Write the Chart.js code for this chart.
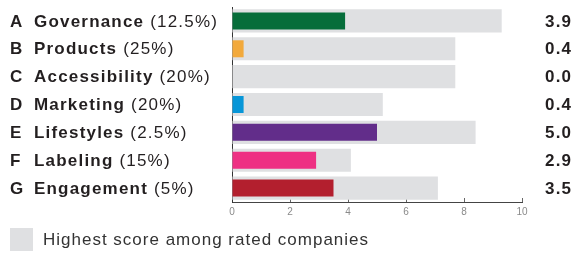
<!DOCTYPE html>
<html>
<head>
<meta charset="utf-8">
<script src="https://cdn.jsdelivr.net/npm/chart.js@4"></script>
<style>
  html, body { margin: 0; padding: 0; background: #fff; }
  #wrap { width: 574px; height: 253px; position: relative; }
</style>
</head>
<body>
<div id="wrap"><canvas id="scoreChart"></canvas></div>
<script>
// Data
const letters = ['A', 'B', 'C', 'D', 'E', 'F', 'G'];
const names = ['Governance', 'Products', 'Accessibility', 'Marketing', 'Lifestyles', 'Labeling', 'Engagement'];
const weights = ['(12.5%)', '(25%)', '(20%)', '(20%)', '(2.5%)', '(15%)', '(5%)'];
const scores = [3.9, 0.4, 0.0, 0.4, 5.0, 2.9, 3.5];
const highest = [9.3, 7.7, 7.7, 5.2, 8.4, 4.1, 7.1];
const xTicks = [0, 2, 4, 6, 8, 10];
const legendText = 'Highest score among rated companies';

const barColors = ['#066d3a', '#f2a93b', '#7a2a1e', '#0796d8', '#622d8a', '#ee3083', '#b31f2e'];
const grayColor = '#dfe0e2';
const FONT = '"Liberation Sans", Arial, Helvetica, sans-serif';

// labels left, values right, legend bottom
const textPlugin = {
    id: 'textPlugin',
    afterDraw(chart) {
        const ctx = chart.ctx;
        const yScale = chart.scales.y;
        ctx.save();
        ctx.textBaseline = 'middle';
        ctx.fillStyle = '#231f20';
        ctx.letterSpacing = '1.2px';
        letters.forEach((l, i) => {
            const y = yScale.getPixelForValue(i) + 1;
            ctx.textAlign = 'left';
            ctx.font = 'bold 17px ' + FONT;
            ctx.fillText(l, 10, y);
            ctx.fillText(names[i], 34, y);
            const w = ctx.measureText(names[i] + ' ').width;
            ctx.font = '17px ' + FONT;
            ctx.fillText(weights[i], 34 + w, y);
            ctx.font = 'bold 17px ' + FONT;
            ctx.fillText(scores[i].toFixed(1), 545, y);
        });
        // legend
        ctx.fillStyle = grayColor;
        ctx.fillRect(10, 228, 23, 23);
        ctx.fillStyle = '#333';
        ctx.letterSpacing = '1px';
        ctx.font = '17px ' + FONT;
        ctx.textAlign = 'left';
        ctx.fillText(legendText, 43, 240);
        ctx.restore();
    }
};

new Chart(document.getElementById('scoreChart'), {
    type: 'bar',
    data: {
        labels: names,
        datasets: [
            {
                label: 'Score',
                data: scores,
                backgroundColor: barColors,
                barPercentage: 0.61,
                categoryPercentage: 1,
                grouped: false,
                order: 0
            },
            {
                label: legendText,
                data: highest,
                backgroundColor: grayColor,
                barPercentage: 0.83,
                categoryPercentage: 1,
                grouped: false,
                order: 1
            }
        ]
    },
    options: {
        indexAxis: 'y',
        responsive: true,
        maintainAspectRatio: false,
        animation: false,
        layout: { padding: { top: 7, right: 52, left: 0, bottom: 0 } },
        plugins: {
            legend: { display: false },
            tooltip: { enabled: false }
        },
        scales: {
            x: {
                min: 0,
                max: 10,
                afterFit: (s) => { s.height = 51; },
                afterBuildTicks: (s) => { s.ticks = xTicks.map(v => ({ value: v })); },
                grid: {
                    display: true,
                    drawOnChartArea: false,
                    drawTicks: true,
                    tickLength: -4,
                    color: '#666'
                },
                border: { display: true, color: '#444', width: 1 },
                ticks: {
                    padding: 8,
                    color: '#8a8a8a',
                    font: { family: FONT, size: 10 }
                }
            },
            y: {
                afterFit: (s) => { s.width = 232; },
                grid: { display: false },
                border: { display: true, color: '#333', width: 1 },
                ticks: { display: false }
            }
        }
    },
    plugins: [textPlugin]
});
</script>
</body>
</html>
